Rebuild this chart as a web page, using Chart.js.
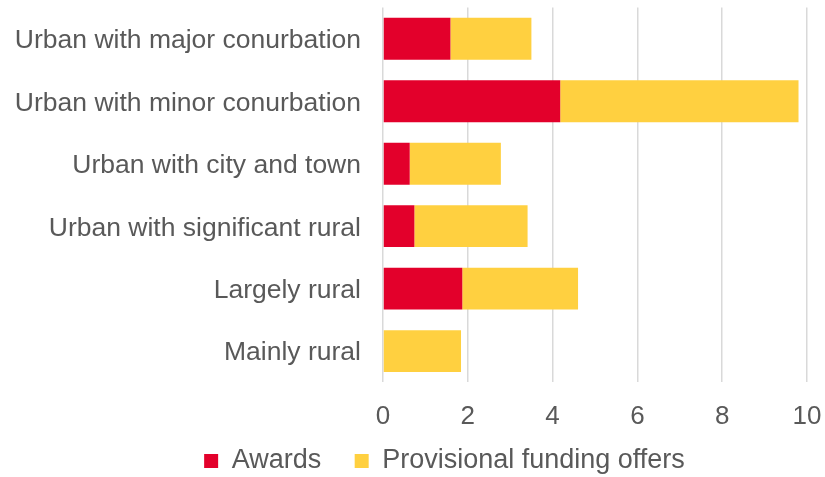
<!DOCTYPE html>
<html><head><meta charset="utf-8">
<script src="https://cdn.jsdelivr.net/npm/chart.js@4"></script>
<style>html,body{margin:0;padding:0;background:#fff}#wrap{width:825px;height:477px;position:relative}</style>
</head><body><div id="wrap"><canvas id="c"></canvas></div>
<script>
const categories = ['Urban with major conurbation', 'Urban with minor conurbation', 'Urban with city and town', 'Urban with significant rural', 'Largely rural', 'Mainly rural'];
const awards = [1.59, 4.18, 0.63, 0.74, 1.87, 0];
const provisionalOffers = [1.91, 5.62, 2.15, 2.67, 2.73, 1.84];
const xTicks = [0, 2, 4, 6, 8, 10];
const seriesNames = ['Awards', 'Provisional funding offers'];

Chart.defaults.font.family = "'Liberation Sans', Arial, sans-serif";
Chart.defaults.color = '#595959';

const legendShift = {
  id: 'legendShift',
  afterLayout(chart) {
    const l = chart.legend;
    if (!l) return;
    const dx = 34, dy = -18;
    l.left += dx; l.right += dx; l.top += dy;
    l.bottom = chart.height;
  }
};

new Chart(document.getElementById('c'), {
  type: 'bar',
  data: {
    labels: categories,
    datasets: [
      { label: seriesNames[0], data: awards, backgroundColor: '#E3002B', borderWidth: 0, barPercentage: 0.67, categoryPercentage: 1 },
      { label: seriesNames[1], data: provisionalOffers, backgroundColor: '#FFD040', borderWidth: 0, barPercentage: 0.67, categoryPercentage: 1 }
    ]
  },
  options: {
    indexAxis: 'y',
    responsive: true,
    maintainAspectRatio: false,
    animation: false,
    layout: { padding: { left: 14, right: 18, top: 7.5, bottom: 0 } },
    scales: {
      x: {
        stacked: true, min: 0, max: 10,
        afterBuildTicks: s => { s.ticks = xTicks.map(v => ({ value: v })); },
        ticks: { padding: 0, color: '#595959', font: { size: 26 } },
        grid: { color: '#d9d9d9', lineWidth: 1.5, drawTicks: true, tickLength: 18.4, tickColor: 'rgba(0,0,0,0)' },
        border: { display: false }
      },
      y: {
        stacked: true,
        ticks: { padding: 0, labelOffset: 2, color: '#595959', font: { size: 26.5, lineHeight: 0.5 } },
        grid: { display: true, drawOnChartArea: false, drawTicks: true, tickLength: 22, tickColor: 'rgba(0,0,0,0)' },
        border: { display: false },
        afterFit(s) { s.width = 369; }
      }
    },
    plugins: {
      legend: {
        position: 'bottom',
        maxHeight: 45,
        labels: { boxWidth: 14, boxHeight: 14, padding: 33.5, color: '#595959', font: { size: 27 } }
      },
      tooltip: { enabled: false }
    }
  },
  plugins: [legendShift]
});
</script>
</body></html>
